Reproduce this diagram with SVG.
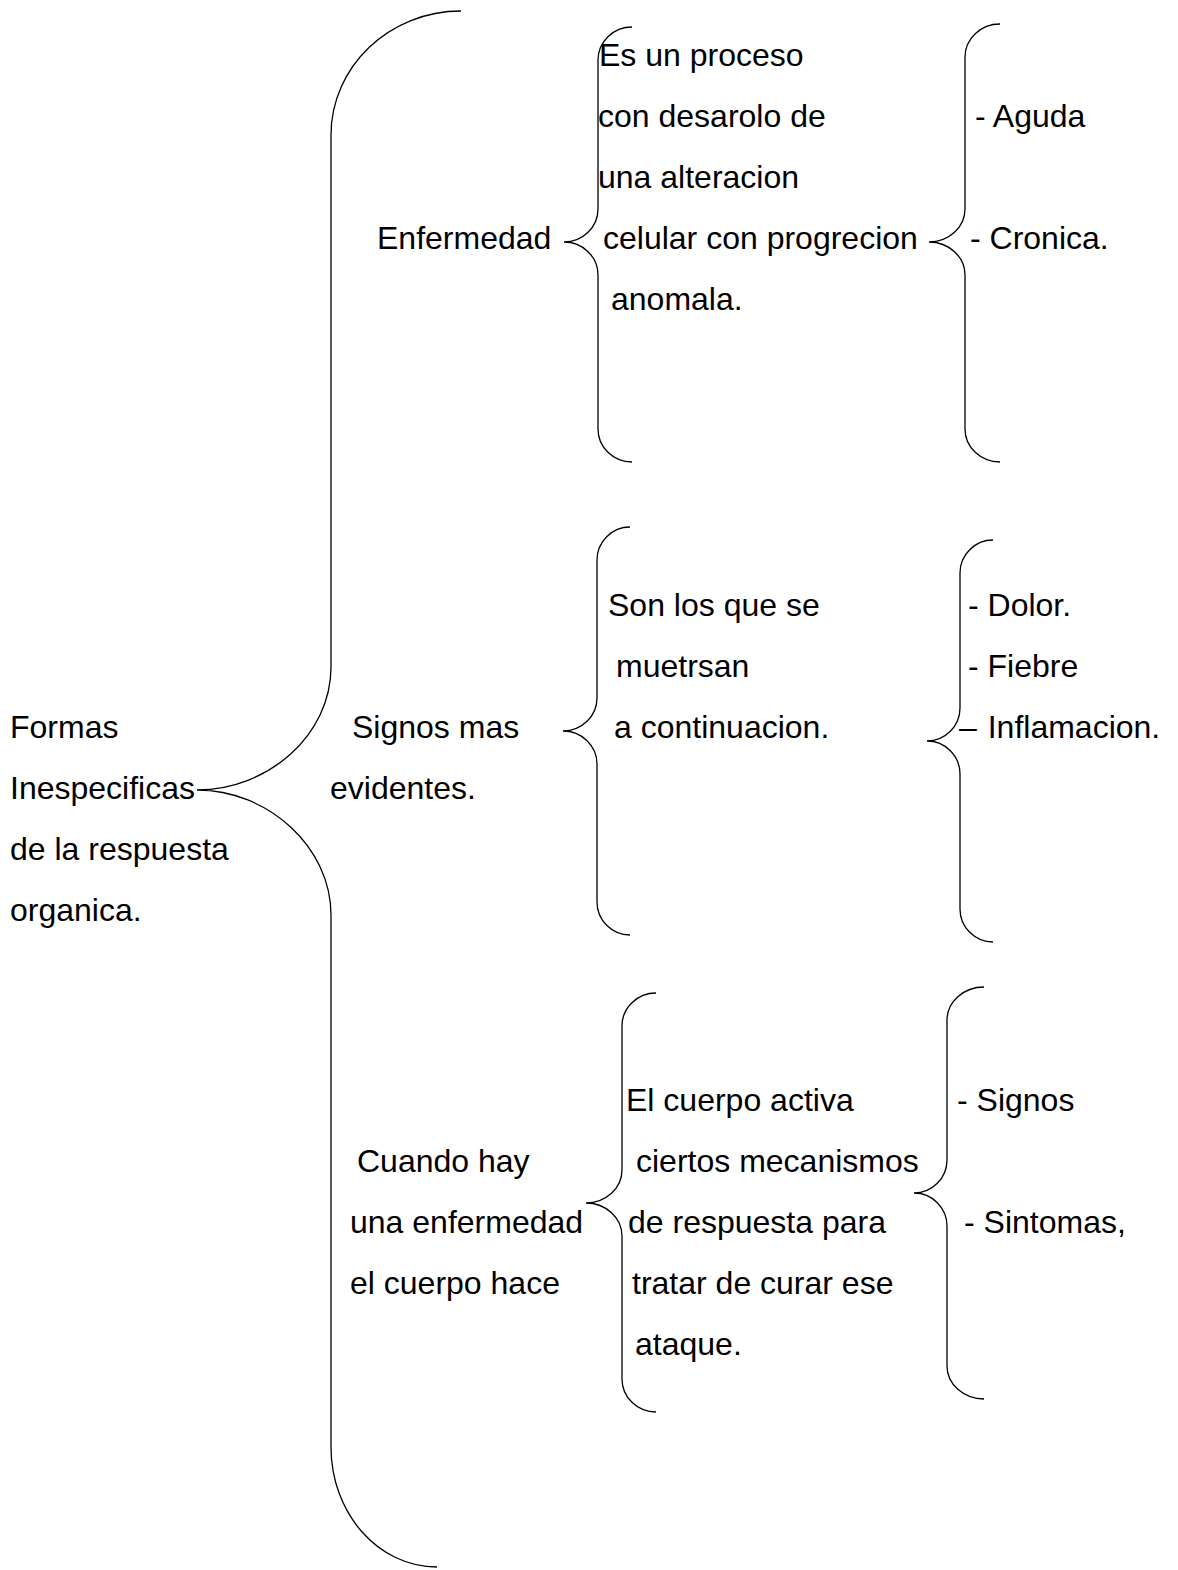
<svg xmlns="http://www.w3.org/2000/svg" width="1178" height="1570" viewBox="0 0 1178 1570">
<style>
text { font-family: "Liberation Sans", Arial, sans-serif; font-size: 32px; fill: #000; }
.br { fill: none; stroke: #000; stroke-width: 1.3; }
</style>
<rect width="1178" height="1570" fill="#fff"/>
<g id="connectors">
<path class="br" d="M461,11 C389,11 331,67 331,135 L331,667 C331,735 268,790 197,790 C268,790 331,847 331,915 L331,1447 C331,1513 378,1567 437,1567"/>
<path class="br" d="M632,27 C613.2,27 598,41.8 598,60 L598,209 C598,227.2 582.8,242 564,242 C582.8,242 598,256.8 598,275 L598,429 C598,447.2 613.2,462 632,462"/>
<path class="br" d="M1000,24 C980.7,24 965,38.8 965,57 L965,209 C965,227.2 948.9,242 929,242 C948.9,242 965,256.8 965,275 L965,429 C965,447.2 980.7,462 1000,462"/>
<path class="br" d="M630,527 C611.8,527 597,541.8 597,560 L597,698 C597,716.2 581.8,731 563,731 C581.8,731 597,745.8 597,764 L597,902 C597,920.2 611.8,935 630,935"/>
<path class="br" d="M993,540 C974.8,540 960,554.8 960,573 L960,708 C960,726.2 945.2,741 927,741 C945.2,741 960,755.8 960,774 L960,909 C960,927.2 974.8,942 993,942"/>
<path class="br" d="M656,993 C637.2,993 622,1007.8 622,1026 L622,1170 C622,1188.2 605.9,1203 586,1203 C605.9,1203 622,1217.8 622,1236 L622,1379 C622,1397.2 637.2,1412 656,1412"/>
<path class="br" d="M984,987 C963.6,987 947,1001.8 947,1020 L947,1160 C947,1178.2 932.2,1193 914,1193 C932.2,1193 947,1207.8 947,1226 L947,1366 C947,1384.2 963.6,1399 984,1399"/>
</g>
<g id="root">
<text x="10" y="738">Formas</text>
<text x="10" y="799">Inespecificas</text>
<text x="10" y="860">de la respuesta</text>
<text x="10" y="921">organica.</text>
</g>
<g id="enfermedad"><text x="377" y="249">Enfermedad</text></g>
<g id="enfermedad-desc">
<text x="599" y="66">Es un proceso</text>
<text x="598" y="127">con desarolo de</text>
<text x="598" y="188">una alteracion</text>
<text x="603" y="249">celular con progrecion</text>
<text x="611" y="310">anomala.</text>
</g>
<g id="enfermedad-tipos">
<text x="975" y="127">- Aguda</text>
<text x="970" y="249">- Cronica.</text>
</g>
<g id="signos"><text x="352" y="738">Signos mas</text><text x="330" y="799">evidentes.</text></g>
<g id="signos-desc">
<text x="608" y="616">Son los que se</text>
<text x="616" y="677">muetrsan</text>
<text x="614" y="738">a continuacion.</text>
</g>
<g id="signos-lista">
<text x="968" y="616">- Dolor.</text>
<text x="968" y="677">- Fiebre</text>
<text x="959" y="738" word-spacing="2">– Inflamacion.</text>
</g>
<g id="cuando">
<text x="357" y="1172">Cuando hay</text>
<text x="350" y="1233">una enfermedad</text>
<text x="350" y="1294">el cuerpo hace</text>
</g>
<g id="cuando-desc">
<text x="626" y="1111">El cuerpo activa</text>
<text x="636" y="1172">ciertos mecanismos</text>
<text x="628" y="1233">de respuesta para</text>
<text x="632" y="1294">tratar de curar ese</text>
<text x="635" y="1355">ataque.</text>
</g>
<g id="cuando-lista">
<text x="957" y="1111">- Signos</text>
<text x="964" y="1233">- Sintomas,</text>
</g>
</svg>
